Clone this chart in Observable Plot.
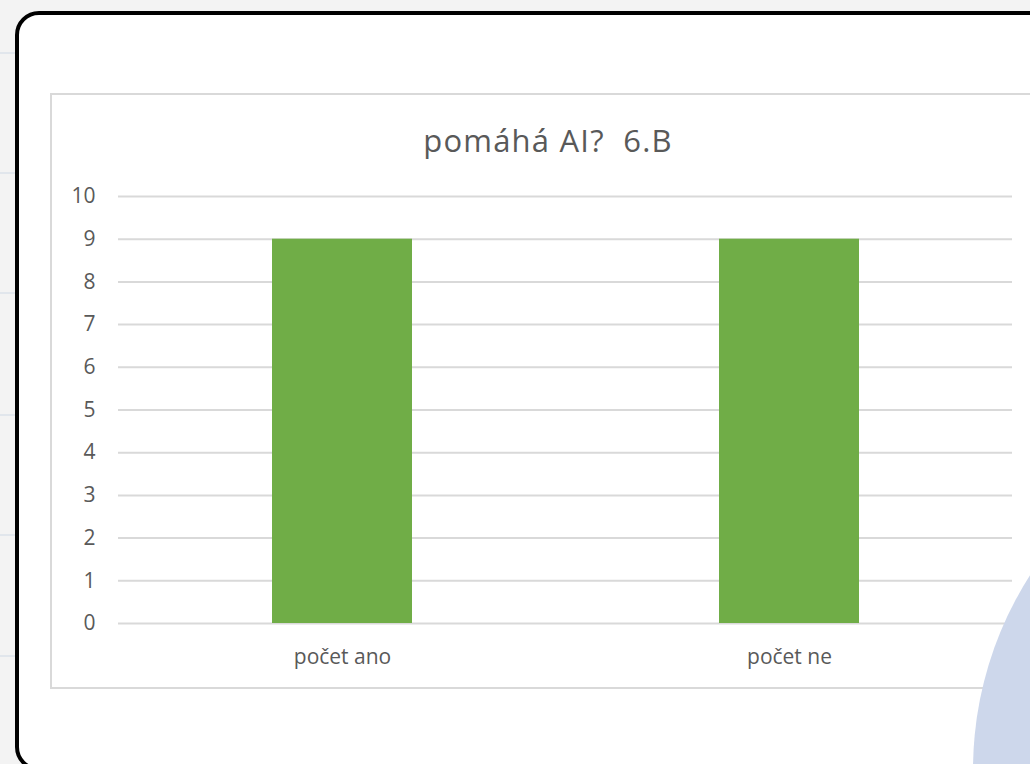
<!DOCTYPE html>
<html>
<head>
<meta charset="utf-8">
<script src="https://cdn.jsdelivr.net/npm/d3@7"></script>
<script src="https://cdn.jsdelivr.net/npm/@observablehq/plot@0.6"></script>
<style>
  html, body { margin: 0; padding: 0; }
  body { width: 1030px; height: 764px; overflow: hidden; position: relative; background: #f3f3f3; font-family: "Open Sans", sans-serif; }
  .bgline { position: absolute; left: 0; width: 1030px; height: 2px; background: #e1e6ec; }
  #frame { position: absolute; left: 15px; top: 11px; width: 1100px; height: 760px; box-sizing: border-box; border: 4.5px solid #000; border-radius: 24px; background: #fff; }
  #box { position: absolute; left: 50px; top: 93px; width: 1000px; height: 596px; box-sizing: border-box; border: 2px solid #d9d9d9; background: #fff; }
  #title { position: absolute; left: 0; width: 1096px; top: 119px; text-align: center; font-size: 31px; letter-spacing: 1.2px; color: #595959; white-space: pre; }
  #chart { position: absolute; left: 51px; top: 94px; width: 994px; height: 594px; }
  #chart svg { max-width: none; }
  #circle { position: absolute; left: 973px; top: 409px; width: 722px; height: 722px; border-radius: 50%; background: #cdd7eb; }
</style>
</head>
<body>
<div class="bgline" style="top:52px"></div>
<div class="bgline" style="top:172px"></div>
<div class="bgline" style="top:292px"></div>
<div class="bgline" style="top:414px"></div>
<div class="bgline" style="top:534px"></div>
<div class="bgline" style="top:655px"></div>
<div id="frame"></div>
<div id="box"></div>
<div id="title"></div>
<div id="chart"></div>
<div id="circle"></div>
<script>
const titleText = "pomáhá AI?  6.B";
const categories = ["počet ano", "počet ne"];
const values = [9, 9];
const yTicks = [0, 1, 2, 3, 4, 5, 6, 7, 8, 9, 10];

const data = categories.map((c, i) => ({category: c, value: values[i]}));

document.getElementById("title").textContent = titleText;

const chart = Plot.plot({
  width: 994,
  height: 594,
  marginLeft: 67,
  marginRight: 33,
  marginTop: 102,
  marginBottom: 65,
  style: {fontFamily: "Open Sans, sans-serif", color: "#595959", background: "transparent", overflow: "visible", maxWidth: "none"},
  x: {domain: categories, paddingInner: 0.687, paddingOuter: 0.3435},
  y: {domain: [0, 10]},
  marks: [
    Plot.gridY(yTicks, {stroke: "#d9d9d9", strokeOpacity: 1, strokeWidth: 2}),
    Plot.barY(data, {x: "category", y: "value", fill: "#70ad47"}),
    Plot.axisY(yTicks, {tickSize: 0, tickPadding: 23, fontSize: 21, fill: "#595959", label: null, tickFormat: d => String(d)}),
    Plot.axisX({tickSize: 0, tickPadding: 26, fontSize: 21, fill: "#595959", label: null})
  ]
});
document.getElementById("chart").appendChild(chart);
</script>
</body>
</html>
